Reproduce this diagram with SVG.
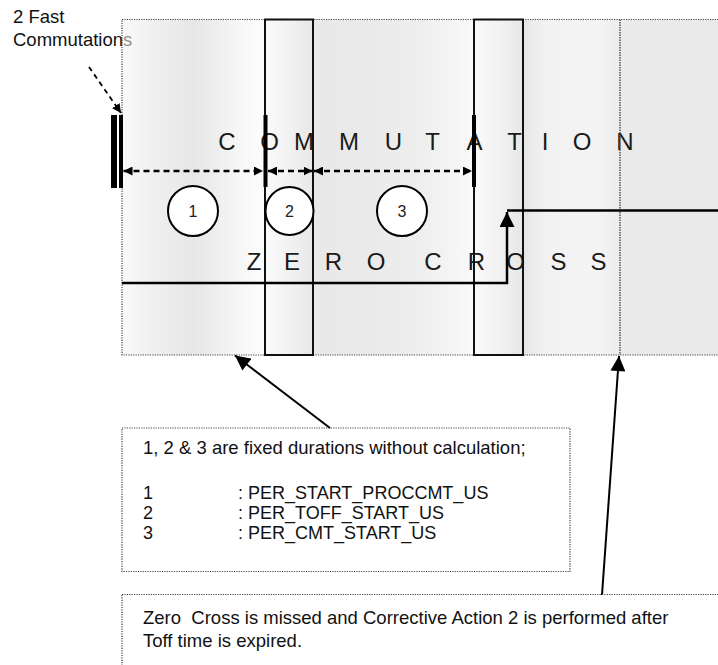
<svg xmlns="http://www.w3.org/2000/svg" width="718" height="665" viewBox="0 0 718 665">
  <defs>
    <!-- soft vertical banding across the timing band -->
    <linearGradient id="band" gradientUnits="userSpaceOnUse" x1="122" y1="0" x2="718" y2="0">
      <stop offset="0" stop-color="#f6f6f6"/>
      <stop offset="0.05" stop-color="#e4e4e4"/>
      <stop offset="0.12" stop-color="#d2d2d2"/>
      <stop offset="0.19" stop-color="#ededed"/>
      <stop offset="0.235" stop-color="#fafafa"/>
      <stop offset="0.28" stop-color="#e7e7e7"/>
      <stop offset="0.32" stop-color="#d5d5d5"/>
      <stop offset="0.42" stop-color="#d9d9d9"/>
      <stop offset="0.50" stop-color="#e0e0e0"/>
      <stop offset="0.57" stop-color="#efefef"/>
      <stop offset="0.59" stop-color="#f6f6f6"/>
      <stop offset="0.64" stop-color="#e4e4e4"/>
      <stop offset="0.675" stop-color="#d2d2d2"/>
      <stop offset="0.71" stop-color="#e7e7e7"/>
      <stop offset="0.80" stop-color="#ebebeb"/>
      <stop offset="0.835" stop-color="#dcdcdc"/>
      <stop offset="0.85" stop-color="#d9d9d9"/>
      <stop offset="1" stop-color="#d7d7d7"/>
    </linearGradient>
    <marker id="dhead" viewBox="0 0 10 10" refX="10" refY="5" markerWidth="9" markerHeight="9" markerUnits="userSpaceOnUse" orient="auto-start-reverse">
      <path d="M0,0 L10,5 L0,10 Z" fill="#000"/>
    </marker>
    <marker id="bighead" viewBox="0 0 10 10" refX="10" refY="5" markerWidth="16" markerHeight="15" markerUnits="userSpaceOnUse" orient="auto">
      <path d="M0,0 L10,5 L0,10 Z" fill="#000"/>
    </marker>
    <style>
      .lbl { font-family: "Liberation Sans", Arial, Helvetica, sans-serif; font-size: 18.5px; fill: #111; }
      .lst { font-family: "Liberation Sans", Arial, Helvetica, sans-serif; font-size: 18px; fill: #111; }
      .big { font-family: "Liberation Sans", Arial, Helvetica, sans-serif; font-size: 24px; fill: #1a1a1a; text-anchor: middle; }
      .num { font-family: "Liberation Sans", Arial, Helvetica, sans-serif; font-size: 16px; fill: #222; text-anchor: middle; }
      .dotted { fill: none; stroke: #444; stroke-width: 1.2; stroke-dasharray: 1.2 1.2; }
      .frame { fill: none; stroke: #111; stroke-width: 2; }
      .dash { fill: none; stroke: #000; stroke-width: 2.5; stroke-dasharray: 6 4; }
    </style>
  </defs>

  <!-- callout label, partly covered by the band -->
  <g id="fast-label">
    <text class="lbl" x="13" y="23">2 Fast</text>
    <text class="lbl" x="13" y="46">Commutations</text>
  </g>

  <!-- timing band background -->
  <g id="band-area">
    <rect x="122" y="19.5" width="610" height="335.5" fill="url(#band)" fill-opacity="0.55"/>
    <rect x="122" y="19.5" width="610" height="335.5" class="dotted"/>
  </g>

  <!-- band captions -->
  <g id="captions">
    <text class="big" x="227 269.5 304 349 393.5 432.5 474.5 514.5 545 582 625" y="150">COMMUTATION</text>
    <text class="big" x="254 292 333.5 376 433 476.5 515.5 558.5 598.5" y="270">ZEROCROSS</text>
  </g>

  <!-- commutation windows -->
  <g id="window-a"><rect x="265" y="19.5" width="48" height="335.5" class="frame"/></g>
  <g id="window-b"><rect x="474" y="19.5" width="49" height="335.5" class="frame"/></g>

  <!-- expected zero-cross marker -->
  <g id="zc-marker">
    <line x1="620" y1="19.5" x2="620" y2="355" stroke="#555" stroke-width="1.5" stroke-dasharray="1.5 1"/>
  </g>

  <!-- duration circles -->
  <g id="d1">
    <circle cx="193" cy="211" r="25" fill="#fff" stroke="#000" stroke-width="2"/>
    <text class="num" x="193" y="217">1</text>
  </g>
  <g id="d2">
    <circle cx="289.5" cy="211" r="24" fill="#fff" stroke="#000" stroke-width="2"/>
    <text class="num" x="289.5" y="217">2</text>
  </g>
  <g id="d3">
    <circle cx="402" cy="211" r="25" fill="#fff" stroke="#000" stroke-width="2"/>
    <text class="num" x="402" y="217">3</text>
  </g>

  <!-- commutation ticks -->
  <g id="ticks">
    <rect x="111" y="115" width="6" height="73" fill="#000"/>
    <rect x="119" y="115" width="4" height="73" fill="#000"/>
    <rect x="263.5" y="115" width="4" height="72" fill="#000"/>
    <rect x="472" y="115" width="4" height="72" fill="#000"/>
  </g>

  <g id="connectors">
    <!-- fixed durations -->
    <line class="dash" x1="123.5" y1="171" x2="263" y2="171" marker-start="url(#dhead)" marker-end="url(#dhead)"/>
    <line class="dash" x1="268" y1="171" x2="312.5" y2="171" marker-start="url(#dhead)" marker-end="url(#dhead)"/>
    <line class="dash" x1="314" y1="171" x2="472" y2="171" marker-start="url(#dhead)" marker-end="url(#dhead)"/>

    <!-- callout to the double commutation -->
    <line x1="89" y1="67" x2="121" y2="113" stroke="#000" stroke-width="1.8" stroke-dasharray="5 4" marker-end="url(#dhead)"/>

    <!-- zero-cross signal -->
    <polyline points="122,283 507,283 507,212" fill="none" stroke="#000" stroke-width="2.5" marker-end="url(#bighead)"/>
    <line x1="507" y1="210.5" x2="718" y2="210.5" stroke="#000" stroke-width="2.5"/>

    <!-- note pointers -->
    <line x1="330" y1="428" x2="235" y2="355.5" stroke="#000" stroke-width="2" marker-end="url(#bighead)"/>
    <line x1="602" y1="595" x2="619" y2="356" stroke="#000" stroke-width="2" marker-end="url(#bighead)"/>
  </g>

  <!-- note: fixed durations -->
  <g id="note-durations">
    <rect x="122" y="428" width="448" height="143.5" class="dotted"/>
    <text class="lbl" x="143" y="454">1, 2 &amp; 3 are fixed durations without calculation;</text>
    <text class="lst" x="143" y="499">1</text>
    <text class="lst" x="238" y="499">: PER_START_PROCCMT_US</text>
    <text class="lst" x="143" y="518.5">2</text>
    <text class="lst" x="238" y="518.5">: PER_TOFF_START_US</text>
    <text class="lst" x="143" y="539">3</text>
    <text class="lst" x="238" y="539">: PER_CMT_START_US</text>
  </g>

  <!-- note: missed zero cross -->
  <g id="note-missed">
    <rect x="122" y="594.5" width="610" height="100" class="dotted"/>
    <text class="lbl" x="143" y="624" xml:space="preserve">Zero  Cross is missed and Corrective Action 2 is performed after</text>
    <text class="lbl" x="143" y="647">Toff time is expired.</text>
  </g>
</svg>
